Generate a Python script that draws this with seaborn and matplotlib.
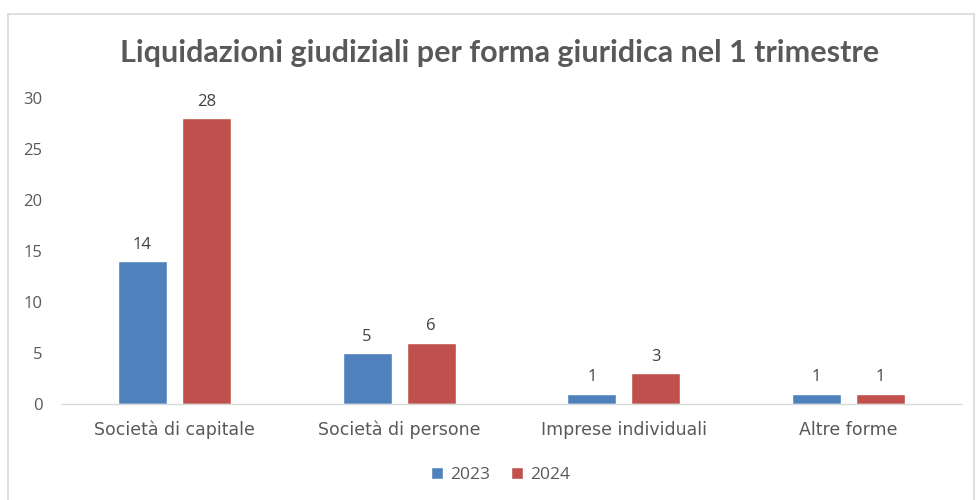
import pandas as pd
import matplotlib.pyplot as plt
import seaborn as sns
from matplotlib.patches import Rectangle

# ========== Data ==========
categories = ['Società di capitale', 'Società di persone', 'Imprese individuali', 'Altre forme']
years = ['2023', '2024']
values_2023 = [14, 5, 1, 1]
values_2024 = [28, 6, 3, 1]

df = pd.DataFrame({
    'forma': categories * 2,
    'anno': [years[0]] * 4 + [years[1]] * 4,
    'valore': values_2023 + values_2024,
})

# ========== Style ==========
sns.set_style('white')
plt.rcParams['font.family'] = ['Open Sans', 'DejaVu Sans']
text_col = '#595959'
palette = {'2023': '#4F81BD', '2024': '#C0504D'}

fig = plt.figure(figsize=(9.76, 5.0), dpi=100)
ax = fig.add_axes([62 / 976, 1 - 404 / 500, 899 / 976, 306 / 500])

sns.barplot(data=df, x='forma', y='valore', hue='anno', palette=palette,
            width=0.57, gap=0.235, ax=ax, saturation=1)

for cont in ax.containers:
    ax.bar_label(cont, padding=6, fontsize=12, color='#404040')

ax.set_xlim(-0.5, 3.5)
ax.set_ylim(0, 30)
ax.set_yticks(range(0, 31, 5))
ax.set_xlabel('')
ax.set_ylabel('')
ax.tick_params(axis='both', length=0, labelsize=12, colors=text_col)
ax.tick_params(axis='x', pad=12)
ax.tick_params(axis='y', pad=14)
for lbl in ax.get_xticklabels():
    lbl.set_family(['DejaVu Sans'])
    lbl.set_fontsize(12.5)
for s in ['top', 'right', 'left']:
    ax.spines[s].set_visible(False)
ax.spines['bottom'].set_color('#D9D9D9')
ax.spines['bottom'].set_linewidth(1)

fig.text(0.512, 1 - 53 / 500, 'Liquidazioni giudiziali per forma giuridica nel 1 trimestre',
         ha='center', va='center', fontsize=22, fontweight='bold', color=text_col,
         family=['Lato', 'DejaVu Sans'])

ax.legend(loc='center', bbox_to_anchor=(0.513, 1 - 475 / 500), bbox_transform=fig.transFigure,
          ncol=2, frameon=False, fontsize=12.5, handlelength=0.7, handleheight=0.7,
          columnspacing=1.2, handletextpad=0.4, labelcolor=text_col)

# chart frame
fig.patches.append(Rectangle((8 / 976, -0.01), 966 / 976, 1 - 14 / 500 + 0.01,
                             transform=fig.transFigure, fill=False,
                             edgecolor='#D9D9D9', linewidth=1.2))

fig.savefig('out.png', dpi=100)
